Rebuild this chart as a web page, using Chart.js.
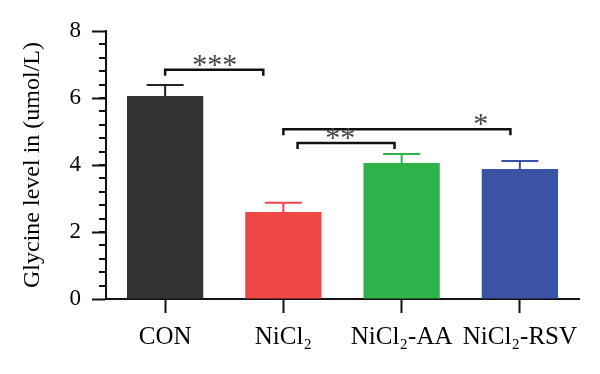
<!DOCTYPE html>
<html>
<head>
<meta charset="utf-8">
<script src="https://cdn.jsdelivr.net/npm/chart.js@4"></script>
<style>
  html, body { margin: 0; padding: 0; background: #fff; }
  #wrap { width: 600px; height: 374px; }
</style>
</head>
<body>
<div id="wrap"><canvas id="glyChart" width="600" height="374"></canvas></div>
<script>
"use strict";
const FONT = "'Liberation Serif', 'DejaVu Serif', serif";

const groups = ["CON", "NiCl\u2082", "NiCl\u2082-AA", "NiCl\u2082-RSV"];
const means = [6.06, 2.6, 4.06, 3.88];
const errors = [0.33, 0.27, 0.27, 0.24];
const barColors = ["#333333", "#ef4646", "#2eb34b", "#3a53a4"];
const yTicks = [0, 2, 4, 6, 8];

// significance brackets: from / to as category positions, y in data units
const bracketFrom = [0, 1, 1.12];
const bracketTo = [0.83, 2.92, 1.94];
const bracketY = [6.84, 5.07, 4.66];
const bracketLabel = ["***", "*", "**"];
const labelAt = [0.42, 2.67, 1.48];

const extrasPlugin = {
  id: "extras",
  afterDatasetsDraw(chart) {
    const ctx = chart.ctx;
    const x = chart.scales.x;
    const y = chart.scales.y;
    const meta = chart.getDatasetMeta(0);
    ctx.save();
    // error bars (upper only)
    meta.data.forEach((bar, i) => {
      const cx = bar.x;
      const top = y.getPixelForValue(means[i]);
      const eTop = y.getPixelForValue(means[i] + errors[i]);
      ctx.strokeStyle = i == 0 ? "#222222" : barColors[i];
      ctx.lineWidth = 2;
      ctx.beginPath();
      ctx.moveTo(cx, top);
      ctx.lineTo(cx, eTop);
      ctx.moveTo(cx - 18.5, eTop);
      ctx.lineTo(cx + 18.5, eTop);
      ctx.stroke();
    });
    // minor y ticks
    ctx.strokeStyle = "#111";
    ctx.lineWidth = 2;
    for (let v = 0.4; v < 8; v += 0.4) {
      const py = Math.round(y.getPixelForValue(v));
      ctx.beginPath();
      ctx.moveTo(y.right - 7, py);
      ctx.lineTo(y.right, py);
      ctx.stroke();
    }
    // brackets
    const catW = x.getPixelForValue(1) - x.getPixelForValue(0);
    bracketFrom.forEach((f, i) => {
      const x1 = x.getPixelForValue(0) + f * catW;
      const x2 = x.getPixelForValue(0) + bracketTo[i] * catW;
      const py = y.getPixelForValue(bracketY[i]);
      ctx.strokeStyle = "#111";
      ctx.lineWidth = 2.5;
      ctx.beginPath();
      ctx.moveTo(x1, py + 6);
      ctx.lineTo(x1, py);
      ctx.lineTo(x2, py);
      ctx.lineTo(x2, py + 6);
      ctx.stroke();
      ctx.fillStyle = "#444";
      ctx.font = "30px " + FONT;
      ctx.textAlign = "center";
      ctx.textBaseline = "middle";
      ctx.fillText(bracketLabel[i], x.getPixelForValue(0) + labelAt[i] * catW, py - 4);
    });
    ctx.restore();
  },
};

const ctx = document.getElementById("glyChart").getContext("2d");
const myChart = new Chart(ctx, {
  type: "bar",
  data: {
    labels: groups,
    datasets: [
      {
        data: means,
        backgroundColor: barColors,
        borderWidth: 0,
        barPercentage: 0.645,
        categoryPercentage: 1,
      },
    ],
  },
  options: {
    responsive: false,
    animation: false,
    events: [],
    layout: { padding: { top: 31, right: 21, left: 0, bottom: 0 } },
    plugins: { legend: { display: false }, tooltip: { enabled: false } },
    scales: {
      x: {
        afterFit: (s) => { s.height = 75; },
        border: { display: true, color: "#111", width: 2 },
        grid: {
          drawOnChartArea: false,
          offset: false,
          tickLength: 14,
          tickColor: "#111",
          tickWidth: 2,
        },
        ticks: {
          color: "#000",
          padding: 9,
          font: { family: FONT, size: 25 },
          maxRotation: 0,
        },
      },
      y: {
        min: 0,
        max: 8,
        afterFit: (s) => { s.width = 106; },
        afterBuildTicks: (s) => { s.ticks = yTicks.map((v) => ({ value: v })); },
        border: { display: true, color: "#111", width: 2 },
        grid: {
          drawOnChartArea: false,
          tickLength: 14,
          tickColor: "#111",
          tickWidth: 2,
        },
        ticks: {
          color: "#000",
          padding: 11,
          font: { family: FONT, size: 23 },
        },
        title: {
          display: true,
          text: "Glycine level in (umol/L)",
          color: "#000",
          font: { family: FONT, size: 24 },
          padding: { top: 18, bottom: 0 },
        },
      },
    },
  },
  plugins: [extrasPlugin],
});
</script>
</body>
</html>
